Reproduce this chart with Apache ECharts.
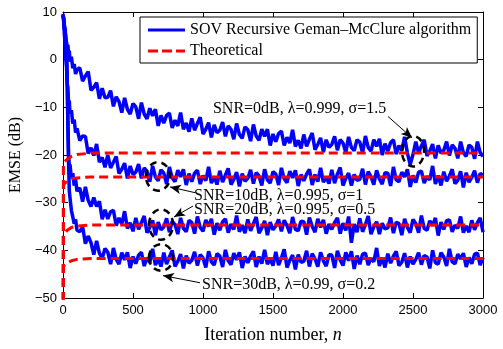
<!DOCTYPE html>
<html>
<head>
<meta charset="utf-8">
<script src="https://cdn.jsdelivr.net/npm/echarts@6/dist/echarts.min.js"></script>
<style>
  html, body { margin: 0; padding: 0; background: #fff; }
  #chart { width: 503px; height: 349px; }
</style>
</head>
<body>
<div id="chart"></div>
<script>
// iteration grid: fine steps at the start, then every 20 iterations
const iterHead = [0, 5, 10, 15, 20, 25, 30, 35, 40, 45, 50, 60, 70, 80, 90, 100];
const iters = iterHead.concat(Array.from({ length: 145 }, (_, k) => 120 + 20 * k));

// simulated EMSE (dB)
const emse0 = [
  9.6, 8.8, 7.2, 6.5, 4.6, 4.9, 2.6, 3.1, 1.2, 1.9, -0.4, 0.6, -1.8, -0.9, -3.0, -2.1,
  -1.7, -4.5, -3.4, -2.5, -6.4, -5.8, -4.8, -8.2, -6.0, -8.0,
  -7.9, -6.5, -9.8, -7.8, -8.8, -11.1, -8.0, -10.4, -11.4, -9.2,
  -9.9, -12.4, -9.0, -11.4, -12.4, -10.2, -11.8, -10.4, -13.9, -11.7,
  -13.3, -11.7, -11.2, -14.3, -12.7, -13.9, -11.1, -14.6, -13.3, -15.1,
  -12.3, -14.8, -13.4, -12.1, -15.6, -14.6, -13.2, -16.3, -13.7, -15.3,
  -14.8, -13.1, -16.1, -13.9, -14.6, -16.7, -13.4, -15.7, -16.5, -14.1,
  -14.7, -17.1, -13.6, -16.0, -16.9, -14.6, -16.1, -14.6, -18.0, -15.6,
  -17.2, -15.5, -15.0, -18.0, -16.3, -17.5, -14.7, -18.2, -16.9, -18.6,
  -15.7, -18.2, -16.7, -15.4, -18.9, -17.8, -16.4, -19.4, -16.8, -18.4,
  -17.8, -16.1, -19.0, -16.8, -17.5, -19.5, -16.2, -18.4, -19.1, -16.8,
  -17.3, -19.6, -16.0, -18.4, -19.2, -16.8, -18.2, -16.6, -20.0, -17.6,
  -19.2, -17.4, -16.8, -19.8, -18.0, -19.1, -16.2, -19.6, -22.0, -19.9,
  -17.2, -19.6, -18.1, -16.8, -20.2, -19.2, -17.7, -20.7, -18.0, -19.6,
  -19.0, -17.2, -20.1, -17.9, -18.6, -20.7, -17.2, -19.5, -20.3, -17.9,
  -18.4, -20.8, -17.2, -19.5, -20.3
];
const emse10 = [
  9.4, 7.9, 5.2, 3.6, 0.2, -1.4, -5.0, -5.9, -9.2, -8.6, -11.4, -10.6, -13.4, -12.6, -15.3, -14.4,
  -17.0, -16.0, -16.1, -19.7, -18.5, -20.1, -17.7, -21.5, -20.5, -22.6,
  -20.0, -22.7, -21.5, -20.3, -23.9, -23.0, -21.7, -24.9, -22.3, -24.1,
  -23.6, -21.9, -24.9, -22.7, -23.5, -25.6, -22.3, -24.6, -25.4, -23.1,
  -23.8, -26.1, -22.5, -24.8, -25.6, -23.2, -24.6, -23.0, -26.3, -23.9,
  -25.6, -23.8, -23.2, -26.1, -24.3, -25.4, -22.5, -25.9, -24.5, -26.2,
  -23.3, -25.7, -24.2, -22.8, -26.2, -25.1, -23.6, -26.6, -23.9, -25.5,
  -24.9, -23.1, -26.0, -23.7, -24.4, -26.4, -23.0, -25.2, -25.9, -23.5,
  -24.0, -26.3, -22.7, -25.0, -25.8, -23.4, -24.8, -23.2, -26.5, -24.1,
  -25.4, -24.0, -23.0, -26.3, -24.1, -25.6, -22.7, -25.7, -24.7, -26.0,
  -23.1, -25.9, -24.0, -22.6, -26.4, -24.9, -23.8, -26.4, -24.1, -25.3,
  -25.1, -22.9, -26.2, -23.5, -24.6, -26.2, -23.2, -25.0, -26.1, -23.7,
  -23.8, -26.5, -22.5, -25.2, -25.6, -23.6, -24.6, -23.0, -26.7, -24.3,
  -25.8, -23.6, -23.4, -25.9, -24.5, -25.2, -22.3, -26.1, -24.3, -26.4,
  -23.5, -25.5, -24.4, -23.0, -26.0, -25.3, -23.4, -26.8, -23.7, -25.7,
  -24.7, -23.3, -25.8, -23.9, -24.2
];
const emse20 = [
  9.3, 8.4, 6.6, 5.9, 4.2, 3.5, -4.0, -13.0, -20.0, -22.6, -22.0, -24.9, -23.8, -26.4, -25.1, -27.6,
  -26.9, -29.8, -26.7, -29.5, -30.8, -28.9, -30.8, -29.7, -33.5, -31.5,
  -33.4, -31.9, -31.6, -34.8, -33.2, -34.5, -31.8, -35.4, -34.2, -36.0,
  -33.2, -35.6, -34.2, -32.8, -36.3, -35.2, -33.7, -36.8, -34.1, -35.7,
  -35.1, -33.3, -36.2, -33.9, -34.6, -36.6, -33.2, -35.4, -36.1, -33.7,
  -34.2, -36.5, -32.9, -35.2, -36.0, -33.6, -35.0, -33.4, -36.7, -34.3,
  -35.8, -34.0, -33.4, -36.3, -34.5, -35.6, -32.7, -36.1, -34.7, -36.4,
  -33.5, -35.9, -34.4, -33.0, -36.4, -35.3, -33.8, -36.8, -34.1, -35.7,
  -34.9, -33.5, -36.0, -33.7, -34.8, -36.4, -33.0, -35.6, -35.9, -33.9,
  -34.0, -36.7, -33.1, -35.0, -36.2, -33.4, -35.2, -33.6, -36.5, -34.5,
  -35.6, -34.2, -33.2, -36.5, -34.3, -35.8, -32.9, -38.4, -34.5, -36.2,
  -33.3, -36.1, -34.6, -32.8, -36.6, -35.1, -34.0, -36.6, -34.3, -35.5,
  -35.3, -33.1, -36.4, -34.1, -34.4, -36.8, -33.4, -35.2, -36.3, -33.5,
  -34.4, -36.3, -32.7, -35.4, -35.8, -33.8, -34.8, -33.2, -36.9, -34.1,
  -35.6, -33.8, -33.6, -36.1, -34.7, -35.4, -32.9, -36.3, -34.9, -36.2,
  -33.7, -35.7, -34.2, -33.2, -36.2
];
const emse30 = [
  9.2, 8.5, 6.5, 6.0, 4.0, 3.6, -4.5, -14.0, -22.0, -27.5, -29.0, -31.6, -31.2, -34.4, -33.5, -35.8,
  -36.1, -35.0, -38.6, -37.0, -38.4, -40.9, -38.0, -40.6, -41.7, -39.6,
  -40.4, -42.9, -39.5, -41.9, -42.9, -40.5, -42.0, -40.4, -43.7, -41.3,
  -42.8, -41.0, -40.4, -43.3, -41.5, -42.6, -39.7, -43.1, -41.7, -43.4,
  -40.5, -42.9, -41.4, -40.0, -43.4, -42.3, -40.8, -43.8, -41.1, -42.7,
  -42.1, -40.3, -43.2, -40.9, -41.6, -43.6, -40.2, -42.4, -43.1, -40.7,
  -41.2, -43.5, -39.9, -42.2, -43.0, -40.6, -42.0, -40.4, -43.7, -41.3,
  -42.6, -41.2, -40.2, -43.5, -41.3, -42.8, -39.9, -42.9, -41.9, -43.2,
  -40.3, -43.1, -41.6, -39.8, -43.6, -42.1, -41.0, -44.0, -40.9, -42.5,
  -42.3, -40.1, -43.4, -40.7, -41.8, -43.4, -40.4, -42.2, -43.3, -40.9,
  -41.0, -43.7, -40.1, -42.0, -43.2, -40.4, -42.2, -40.2, -43.9, -41.1,
  -42.9, -40.8, -40.6, -43.1, -41.7, -42.4, -39.5, -43.3, -41.5, -43.6,
  -40.7, -42.7, -41.2, -40.2, -43.2, -42.5, -40.6, -43.6, -41.3, -42.9,
  -41.9, -40.5, -43.0, -41.1, -41.4, -43.8, -40.0, -42.6, -42.9, -40.5,
  -41.4, -43.3, -39.7, -42.4, -42.8, -40.8, -41.8, -40.6, -43.5, -41.5,
  -42.8, -40.8, -40.6, -43.1, -41.5
];

// theoretical curves
const theoIters = [0, 3, 10, 30, 60, 100, 200, 3000];
const theo0 = [-80, -22, -21.4, -20.9, -20.3, -19.9, -19.6, -19.6];
const theo10 = [-80, -26.5, -26, -25.5, -25.0, -24.8, -24.6, -24.6];
const theo20 = [-80, -37, -36.5, -35.8, -35.2, -34.9, -34.7, -34.7];
const theo30 = [-80, -43.5, -43, -42.6, -42.2, -41.9, -41.7, -41.7];

// annotations: label anchor, arrow tail/head, ellipse centre and radii (data units)
const annoLabels = ["SNR=0dB, λ=0.999, σ=1.5", "SNR=10dB, λ=0.995, σ=1", "SNR=20dB, λ=0.995, σ=0.5", "SNR=30dB, λ=0.99, σ=0.2"];
const annoAt = [[1071, -10.3], [936, -28.5], [936, -31.4], [993, -47.2]];
const arrowTail = [[2321, -11.9], [943, -27.9], [929, -30.7], [979, -46.8]];
const arrowHead = [[2493, -16.4], [764, -26.7], [793, -33.0], [714, -45.3]];
const ellipseAt = [[2500, -19.2], [679, -24.5], [700, -34.6], [700, -41.5]];
const ellipseR = [[79, 3.2], [86, 3.0], [86, 3.2], [86, 2.8]];

const simName = "SOV Recursive Geman\u2013McClure algorithm";
const theoName = "Theoretical";
const serif = "Liberation Serif";
const sans = "Liberation Sans";

const chart = echarts.init(document.getElementById("chart"));

const simSeries = [emse0, emse10, emse20, emse30].map(vals => ({
  name: simName,
  type: "line",
  data: iters.map((n, i) => [n, vals[i]]),
  symbol: "none",
  lineStyle: { color: "#0000ff", width: 3.5 },
  itemStyle: { color: "#0000ff" },
  z: 2,
}));

const theoSeries = [theo0, theo10, theo20, theo30].map(vals => ({
  name: theoName,
  type: "line",
  data: theoIters.map((n, i) => [n, vals[i]]),
  symbol: "none",
  lineStyle: { color: "#ff0000", width: 3, type: [9, 5] },
  itemStyle: { color: "#ff0000" },
  z: 3,
}));

const arrowSeries = {
  name: "arrows",
  type: "line",
  data: [],
  z: 4,
  markLine: {
    silent: true,
    symbol: ["none", "arrow"],
    symbolSize: [7, 11],
    label: { show: false },
    lineStyle: { color: "#000", width: 1, type: "solid" },
    data: arrowTail.map((t, i) => [{ coord: t }, { coord: arrowHead[i] }]),
  },
};

const axisCommon = {
  type: "value",
  axisLine: { show: true, onZero: false, lineStyle: { color: "#000", width: 1 } },
  axisTick: { show: true, inside: true, length: 5, lineStyle: { color: "#000" } },
  splitLine: { show: false },
};

chart.setOption({
  animation: false,
  grid: { left: 63, right: 20, top: 12, bottom: 41 },
  legend: {
    data: [
      { name: simName, icon: "rect" },
      { name: theoName, icon: "path://M0,0h10v3h-10zM14,0h10v3h-10zM28,0h9v3h-9z" },
    ],
    orient: "vertical",
    left: 140,
    top: 17,
    itemWidth: 37,
    itemHeight: 3,
    itemGap: 5,
    padding: [5, 6, 4, 8],
    borderColor: "#000",
    borderWidth: 1,
    backgroundColor: "#fff",
    selectedMode: false,
    textStyle: { fontFamily: serif, fontSize: 16, color: "#000" },
  },
  xAxis: [
    Object.assign({}, axisCommon, {
      min: 0, max: 3000, interval: 500,
      name: "Iteration number, {i|n}",
      nameLocation: "middle",
      nameGap: 28,
      nameTextStyle: {
        fontFamily: serif, fontSize: 18, color: "#000",
        rich: { i: { fontFamily: serif, fontSize: 18, fontStyle: "italic", color: "#000" } },
      },
      axisLabel: { fontFamily: sans, fontSize: 13, color: "#000", margin: 6, formatter: v => String(v) },
    }),
    Object.assign({}, axisCommon, {
      position: "top", min: 0, max: 3000, interval: 500,
      axisLabel: { show: false },
    }),
  ],
  yAxis: [
    Object.assign({}, axisCommon, {
      min: -50, max: 10, interval: 10,
      name: "EMSE (dB)",
      nameLocation: "middle",
      nameGap: 32,
      nameTextStyle: { fontFamily: serif, fontSize: 16, color: "#000" },
      axisLabel: {
        fontFamily: sans, fontSize: 13, color: "#000", margin: 6,
        formatter: v => String(v).replace("-", "\u2212"),
      },
    }),
    Object.assign({}, axisCommon, {
      position: "right", min: -50, max: 10, interval: 10,
      axisLabel: { show: false },
    }),
  ],
  series: simSeries.concat(theoSeries, [arrowSeries]),
});

// text labels and dashed ellipses placed through the axes
const toPx = p => chart.convertToPixel({ xAxisIndex: 0, yAxisIndex: 0 }, p);
const graphics = [];
annoLabels.forEach((txt, i) => {
  const p = toPx(annoAt[i]);
  graphics.push({
    type: "text", x: p[0], y: p[1], z: 10, silent: true,
    style: { text: txt, fontFamily: serif, fontSize: 16, fill: "#000", verticalAlign: "middle", align: "left" },
  });
  const c = toPx(ellipseAt[i]);
  const e = toPx([ellipseAt[i][0] + ellipseR[i][0], ellipseAt[i][1] + ellipseR[i][1]]);
  graphics.push({
    type: "ellipse", z: 10, silent: true,
    shape: { cx: c[0], cy: c[1], rx: Math.abs(e[0] - c[0]), ry: Math.abs(c[1] - e[1]) },
    style: { fill: "none", stroke: "#000", lineWidth: 2.5, lineDash: [7, 5] },
  });
});
chart.setOption({ graphic: graphics });
</script>
</body>
</html>
